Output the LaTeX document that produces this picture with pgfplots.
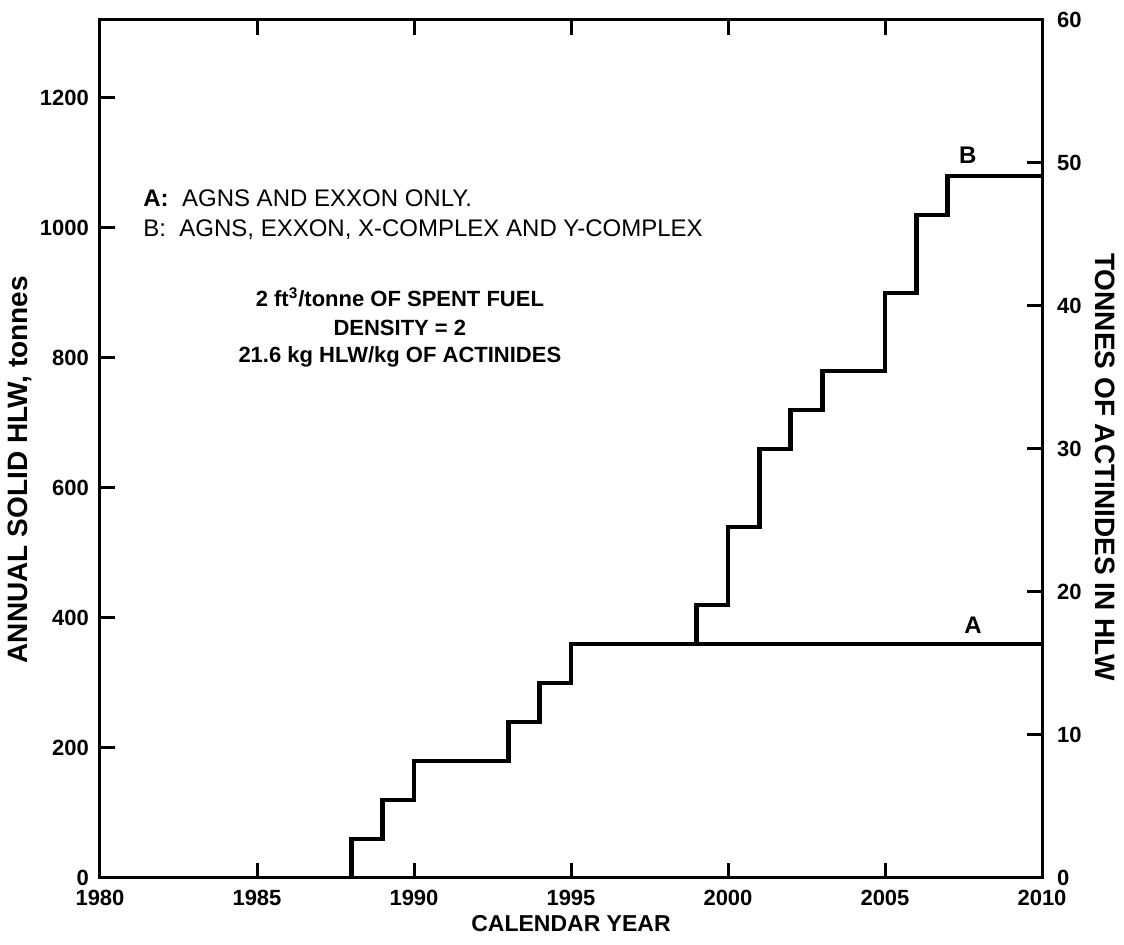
\documentclass[border=0pt]{standalone}
\usepackage{fontspec}
\setmainfont{Liberation Sans}
\usepackage{pgfplots}
\pgfplotsset{compat=1.18}

\pgfplotsset{
  hlwbase/.style={
    scale only axis,
    width=471pt, height=429pt,
    at={(50pt,33.5pt)}, anchor=south west,
    xmin=1980, xmax=2010,
    tick align=inside,
    major tick length=7.5pt,
    axis line style={line width=1.5pt},
    every tick/.style={line width=1.5pt, black},
    tick label style={font=\fontsize{11}{13}\selectfont\bfseries},
    /pgf/number format/assume math mode=true,
    /pgf/number format/1000 sep={},
  },
}

\begin{document}
\begin{tikzpicture}
\useasboundingbox (0,0) rectangle (562pt,472.5pt);

\begin{axis}[
  hlwbase,
  ymin=0, ymax=1320,
  xtick={1980,1985,...,2010},
  ytick={0,200,...,1200},
  xtick pos=both,
  ytick pos=left,
  xticklabel style={yshift=-2.5pt},
  yticklabel style={xshift=-2pt},
  xlabel={CALENDAR YEAR},
  ylabel={ANNUAL SOLID HLW, tonnes},
  xlabel style={at={(axis description cs:0.5,-0.0535)}, anchor=center,
    font=\fontsize{11.5}{13}\selectfont\bfseries},
  ylabel style={at={(axis description cs:-0.085,0.476)}, anchor=center,
    font=\fontsize{14}{16}\selectfont\bfseries},
  clip=false,
]
% B: AGNS, EXXON, X-COMPLEX and Y-COMPLEX
\addplot[const plot, black, line width=2.4pt] coordinates {
  (1988,0)(1988,60)(1989,120)(1990,180)(1993,240)(1994,300)(1995,360)
  (1999,420)(2000,540)(2001,660)(2002,720)(2003,780)(2005,900)
  (2006,1020)(2007,1080)(2010,1080)
};
% A: AGNS and EXXON only
\addplot[const plot, black, line width=2.4pt] coordinates {
  (1988,0)(1988,60)(1989,120)(1990,180)(1993,240)(1994,300)(1995,360)
  (2010,360)
};

\node[anchor=west, inner sep=0pt, font=\fontsize{12}{14}\selectfont] at (axis cs:1981.37,1045)
  {\textbf{A:}\ \ AGNS AND EXXON ONLY.};
\node[anchor=west, inner sep=0pt, font=\fontsize{12}{14}\selectfont] at (axis cs:1981.37,997)
  {B:\ \ AGNS, EXXON, X-COMPLEX AND Y-COMPLEX};
\node[font=\fontsize{11}{13}\selectfont\bfseries] at (axis cs:1989.55,894)
  {2 ft\textsuperscript{3}/tonne OF SPENT FUEL};
\node[font=\fontsize{11}{13}\selectfont\bfseries] at (axis cs:1989.55,847)
  {DENSITY = 2};
\node[font=\fontsize{11}{13}\selectfont\bfseries] at (axis cs:1989.55,801)
  {21.6 kg HLW/kg OF ACTINIDES};
\node[font=\fontsize{12}{14}\selectfont\bfseries] at (axis cs:2007.8,389) {A};
\node[font=\fontsize{12}{14}\selectfont\bfseries] at (axis cs:2007.64,1112) {B};
\end{axis}

\begin{axis}[
  hlwbase,
  ymin=0, ymax=60,
  axis x line=none,
  axis y line*=right,
  ytick={0,10,...,60},
  yticklabel style={xshift=4pt},
  ylabel={TONNES OF ACTINIDES IN HLW},
  ylabel style={at={(axis description cs:1.067,0.479)}, anchor=center, rotate=180,
    font=\fontsize{14}{16}\selectfont\bfseries},
]
\end{axis}
\end{tikzpicture}
\end{document}
